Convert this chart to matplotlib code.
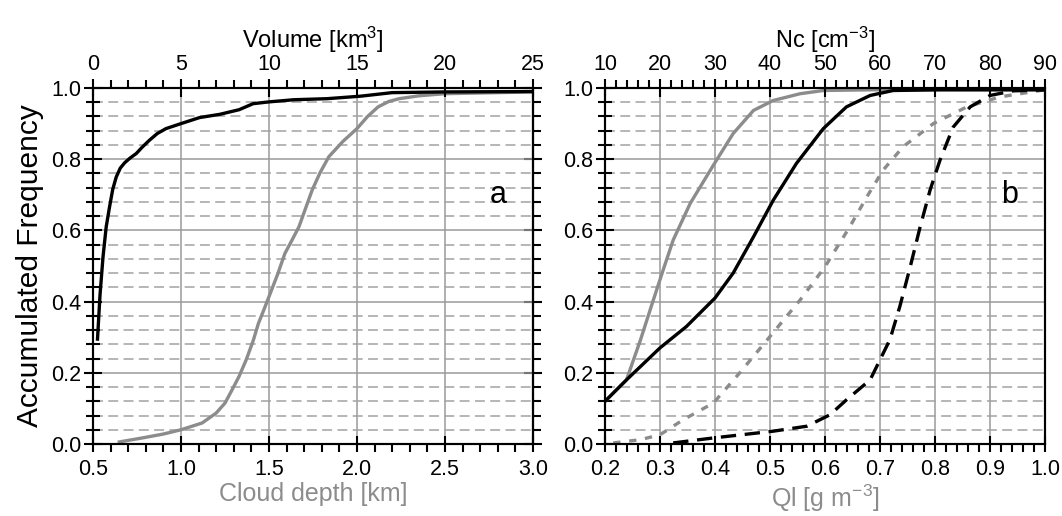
import matplotlib.pyplot as plt
from matplotlib.ticker import MultipleLocator, NullFormatter

plt.rcParams['font.family'] = ['Liberation Sans', 'DejaVu Sans']
plt.rcParams['mathtext.fontset'] = 'custom'
plt.rcParams['mathtext.rm'] = 'Liberation Sans'
plt.rcParams['mathtext.it'] = 'Liberation Sans:italic'

# panel a: volume (top axis, black) and cloud depth (bottom axis, gray)
vol = [0.25, 0.4, 0.57, 0.75, 0.94, 1.12, 1.32, 1.55, 1.8, 2.1, 2.46, 2.8, 3.2, 3.65, 4.15,
       5.0, 6.06, 7.2, 8.3, 9.1, 10.0, 11.4, 13.3, 15.2, 17.0, 20.0, 25.0]
vol_freq = [0.29, 0.42, 0.526, 0.61, 0.666, 0.715, 0.75, 0.775, 0.79, 0.803, 0.816, 0.834,
            0.853, 0.872, 0.886, 0.9, 0.917, 0.926, 0.939, 0.956, 0.961, 0.967, 0.97, 0.977,
            0.987, 0.989, 0.99]
depth = [0.64, 0.78, 0.9, 1.0, 1.12, 1.2, 1.25, 1.29, 1.33, 1.37, 1.41, 1.44, 1.47, 1.5,
         1.55, 1.59, 1.63, 1.67, 1.71, 1.745, 1.79, 1.84, 1.92, 2.0, 2.06, 2.12, 2.18, 2.24,
         2.35, 2.5, 3.0]
depth_freq = [0.005, 0.017, 0.028, 0.04, 0.059, 0.087, 0.115, 0.152, 0.19, 0.236, 0.29,
              0.339, 0.376, 0.414, 0.478, 0.535, 0.572, 0.61, 0.665, 0.713, 0.762, 0.807,
              0.85, 0.886, 0.92, 0.947, 0.962, 0.97, 0.978, 0.984, 0.989]

# panel b: Ql (bottom axis, gray) and Nc (top axis, black)
ql_solid = [0.2, 0.239, 0.264, 0.288, 0.306, 0.324, 0.355, 0.397, 0.433, 0.47, 0.506,
            0.555, 0.597, 0.688, 1.0]
ql_solid_freq = [0.12, 0.18, 0.29, 0.405, 0.49, 0.573, 0.676, 0.783, 0.872, 0.937, 0.965,
                 0.984, 0.993, 0.995, 0.995]
nc_solid = [10, 13.9, 20, 24.8, 30, 33.3, 37, 40.6, 44.8, 49.7, 53.9, 58.2, 62.4, 70.9, 90]
nc_solid_freq = [0.12, 0.18, 0.27, 0.33, 0.41, 0.48, 0.582, 0.685, 0.788, 0.886, 0.947,
                 0.979, 0.993, 0.995, 0.995]
ql_dash = [0.215, 0.264, 0.3, 0.342, 0.397, 0.445, 0.5, 0.555, 0.6, 0.645, 0.676, 0.706,
           0.742, 0.797, 0.858, 0.918, 1.0]
ql_dash_freq = [0.003, 0.012, 0.026, 0.068, 0.115, 0.2, 0.302, 0.405, 0.498, 0.61, 0.694,
                0.77, 0.835, 0.9, 0.947, 0.975, 0.995]
nc_dash = [22.4, 29.7, 40.6, 46.7, 50.9, 53.9, 58.2, 61.8, 63.6, 65.5, 67.3, 69.1, 70.9,
           73.3, 76.4, 80, 84.2, 90]
nc_dash_freq = [0.003, 0.017, 0.036, 0.05, 0.082, 0.124, 0.18, 0.293, 0.386, 0.498, 0.61,
                0.713, 0.797, 0.89, 0.947, 0.979, 0.992, 0.995]

GRAY = '#8c8c8c'
GRID = '#9a9a9a'

fig = plt.figure(figsize=(10.62, 5.16), dpi=100)
axa = fig.add_axes([93 / 1062, 72 / 516, 440 / 1062, 356 / 516])
axb = fig.add_axes([605 / 1062, 72 / 516, 440 / 1062, 356 / 516])


def style(ax, top, xmaj, xmin, txmaj, txmin, right_ticks):
    ax.set_ylim(0, 1)
    ax.yaxis.set_major_locator(MultipleLocator(0.2))
    ax.yaxis.set_minor_locator(MultipleLocator(0.04))
    ax.xaxis.set_major_locator(MultipleLocator(xmaj))
    ax.xaxis.set_minor_locator(MultipleLocator(xmin))
    top.xaxis.set_major_locator(MultipleLocator(txmaj))
    top.xaxis.set_minor_locator(MultipleLocator(txmin))
    ax.grid(which='major', color=GRID, lw=1.1, ls='-')
    ax.grid(which='minor', axis='y', color='#a2a2a2', lw=1.1, ls=(0, (6.5, 3.5)))
    ax.set_axisbelow(True)
    ax.tick_params(axis='y', which='major', direction='inout', length=13, width=1.5,
                   labelsize=15.5, right=False, pad=2)
    ax.tick_params(axis='y', which='minor', direction='inout', length=10, width=1.5,
                   right=False)
    ax.tick_params(axis='x', which='major', direction='inout', length=11, width=1.5,
                   labelsize=15.5, pad=5)
    ax.tick_params(axis='x', which='minor', direction='out', length=6, width=1.5)
    top.tick_params(which='major', direction='inout', length=13, width=1.5,
                    labelsize=15.5, pad=3)
    top.tick_params(which='minor', direction='out', length=6, width=1.5)
    if right_ticks:
        sec = ax.secondary_yaxis('right')
        sec.yaxis.set_major_locator(MultipleLocator(0.2))
        sec.yaxis.set_minor_locator(MultipleLocator(0.04))
        sec.yaxis.set_major_formatter(NullFormatter())
        sec.tick_params(which='major', direction='inout', length=13, width=1.5)
        sec.tick_params(which='minor', direction='out', length=6, width=1.5)
        sec.spines['right'].set_linewidth(1.5)
    for a in (ax, top):
        for s in a.spines.values():
            s.set_linewidth(1.5)


# panel a
axa.set_xlim(0.5, 3.0)
topa = axa.twiny()
topa.set_xlim(0, 25)
style(axa, topa, 0.5, 0.1, 5, 1, True)
axa.plot(depth, depth_freq, color=GRAY, lw=2.4, solid_capstyle='butt')
topa.plot(vol, vol_freq, color='black', lw=2.4, solid_capstyle='butt')
axa.set_ylabel('Accumulated Frequency', fontsize=21.5, labelpad=5)
axa.set_xlabel('Cloud depth [km]', fontsize=18, color=GRAY, labelpad=2)
topa.set_xlabel('Volume [km$^3$]', fontsize=17, labelpad=4)
axa.text(0.92, 0.70, 'a', transform=axa.transAxes, fontsize=22, ha='center', va='center')

# panel b
axb.set_xlim(0.2, 1.0)
topb = axb.twiny()
topb.set_xlim(10, 90)
style(axb, topb, 0.1, 0.02, 10, 2, False)
axb.plot(ql_solid, ql_solid_freq, color=GRAY, lw=2.4)
axb.plot(ql_dash, ql_dash_freq, color=GRAY, lw=2.4, ls=(0, (2.2, 2.6)))
topb.plot(nc_solid, nc_solid_freq, color='black', lw=2.4)
topb.plot(nc_dash, nc_dash_freq, color='black', lw=2.4, ls=(0, (4.6, 2.6)))
axb.set_xlabel('Ql [g m$^{-3}$]', fontsize=18, color=GRAY, labelpad=2)
topb.set_xlabel('Nc [cm$^{-3}$]', fontsize=17, labelpad=4)
axb.text(0.92, 0.70, 'b', transform=axb.transAxes, fontsize=22, ha='center', va='center')

fig.savefig('out.png', dpi=100)
